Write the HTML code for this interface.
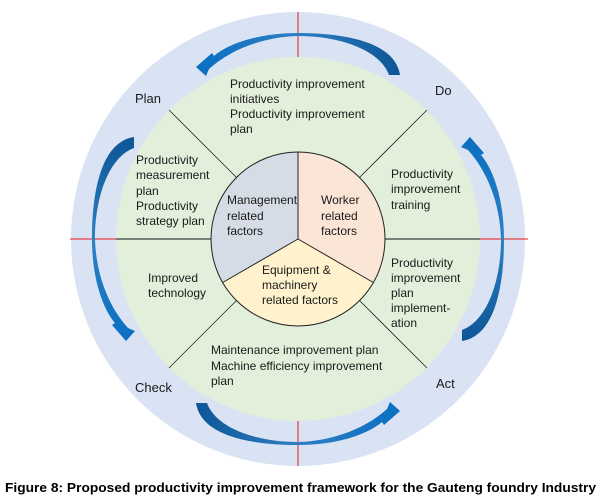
<!DOCTYPE html>
<html><head><meta charset="utf-8"><style>
html,body{margin:0;padding:0;background:#fff;}
svg{display:block;}
text{font-family:"Liberation Sans",sans-serif;font-size:12px;fill:#1a1a1a;}
</style></head><body>
<svg width="601" height="501" viewBox="0 0 601 501" xmlns="http://www.w3.org/2000/svg">
<defs>
<linearGradient id="ag" x1="0" y1="0" x2="1" y2="0">
<stop offset="0" stop-color="#0a6fc2"/><stop offset="0.5" stop-color="#2e7fc4"/><stop offset="1" stop-color="#0d5596"/>
</linearGradient>
<path id="arr" d="M400 75 C395 42 345 33 298 33 C258 33 228 44 214 56 L212 53 L196 67 L206 76 L209 69 C230 50 262 37 298 36 C340 36 380 50 389 75 Z" fill="url(#ag)"/>
</defs>
<circle cx="298" cy="239" r="227" fill="#dae3f3"/>
<circle cx="298" cy="239" r="182" fill="#e2efda"/>
<!-- red lines -->
<line x1="298" y1="12" x2="298" y2="57" stroke="#e8191f" stroke-width="1"/>
<line x1="298" y1="421" x2="298" y2="466" stroke="#e8191f" stroke-width="1"/>
<line x1="70" y1="239" x2="116" y2="239" stroke="#e8191f" stroke-width="1"/>
<line x1="480" y1="239" x2="528" y2="239" stroke="#e8191f" stroke-width="1"/>
<!-- black lines -->
<line x1="116" y1="239" x2="211" y2="239" stroke="#111" stroke-width="1"/>
<line x1="385" y1="239" x2="480" y2="239" stroke="#111" stroke-width="1"/>
<line x1="237" y1="178" x2="169" y2="110" stroke="#222" stroke-width="0.8"/>
<line x1="359" y1="178" x2="427" y2="110" stroke="#222" stroke-width="0.8"/>
<line x1="237" y1="300" x2="169" y2="368" stroke="#222" stroke-width="0.8"/>
<line x1="359" y1="300" x2="427" y2="368" stroke="#222" stroke-width="0.8"/>
<!-- inner circle sectors -->
<path d="M298 239 L298 152 A87 87 0 0 0 222.7 282.5 Z" fill="#d6dce5"/>
<path d="M298 239 L298 152 A87 87 0 0 1 373.3 282.5 Z" fill="#fbe5d6"/>
<path d="M298 239 L373.3 282.5 A87 87 0 0 1 222.7 282.5 Z" fill="#fff2cc"/>
<line x1="298" y1="239" x2="298" y2="152" stroke="#222" stroke-width="1"/>
<line x1="298" y1="239" x2="222.7" y2="282.5" stroke="#222" stroke-width="1"/>
<line x1="298" y1="239" x2="373.3" y2="282.5" stroke="#222" stroke-width="1"/>
<circle cx="298" cy="239" r="87" fill="none" stroke="#222" stroke-width="1"/>
<!-- arrows -->
<use href="#arr"/>
<use href="#arr" transform="rotate(90 298 239)"/>
<use href="#arr" transform="rotate(180 298 239)"/>
<use href="#arr" transform="rotate(270 298 239)"/>
<!-- labels -->
<text x="135" y="103" style="font-size:13px">Plan</text>
<text x="435" y="95" style="font-size:13px">Do</text>
<text x="135" y="392" style="font-size:13px">Check</text>
<text x="436" y="388" style="font-size:13px">Act</text>

<text x="230" y="88">Productivity improvement</text>
<text x="230" y="103">initiatives</text>
<text x="230" y="118">Productivity improvement</text>
<text x="230" y="133">plan</text>

<text x="136" y="164">Productivity</text>
<text x="136" y="179">measurement</text>
<text x="136" y="195">plan</text>
<text x="136" y="210">Productivity</text>
<text x="136" y="225">strategy plan</text>

<text x="227" y="204">Management</text>
<text x="227" y="220">related</text>
<text x="227" y="235">factors</text>

<text x="321" y="204">Worker</text>
<text x="321" y="220">related</text>
<text x="321" y="235">factors</text>

<text x="391" y="178">Productivity</text>
<text x="391" y="193">improvement</text>
<text x="391" y="209">training</text>

<text x="148" y="282">Improved</text>
<text x="148" y="297">technology</text>

<text x="262" y="274">Equipment &amp;</text>
<text x="262" y="289">machinery</text>
<text x="262" y="304">related factors</text>

<text x="391" y="267">Productivity</text>
<text x="391" y="282">improvement</text>
<text x="391" y="297">plan</text>
<text x="391" y="312">implement-</text>
<text x="391" y="327">ation</text>

<text x="211" y="354">Maintenance improvement plan</text>
<text x="211" y="370">Machine efficiency improvement</text>
<text x="211" y="385">plan</text>

<text x="5" y="492" textLength="591" lengthAdjust="spacingAndGlyphs" style="font-size:13px;font-weight:bold;fill:#000">Figure 8: Proposed productivity improvement framework for the Gauteng foundry Industry</text>
</svg>
</body></html>
